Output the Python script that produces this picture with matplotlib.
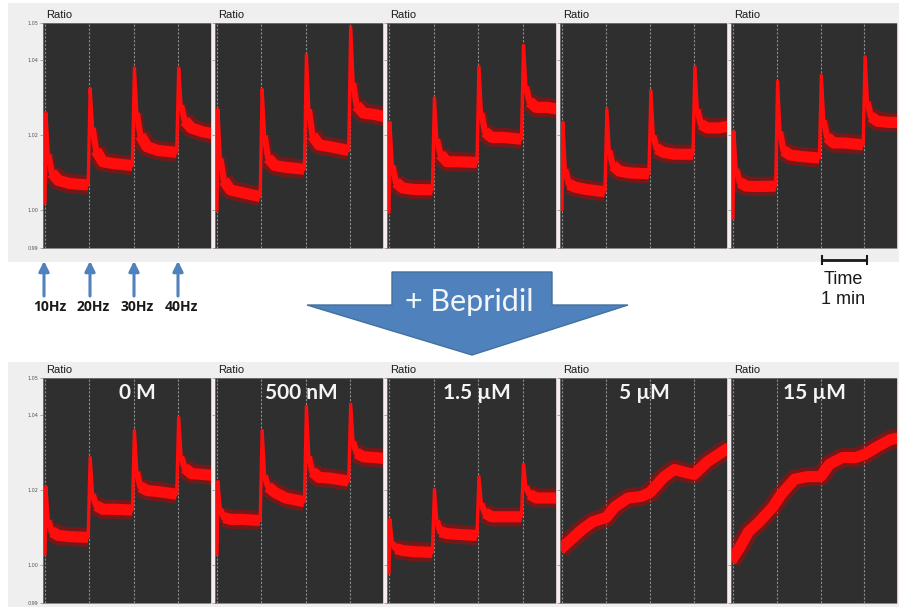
import matplotlib
matplotlib.use('Agg')
import matplotlib.pyplot as plt
from matplotlib.patches import Rectangle, Polygon

# ---------------- data ----------------
stim_times = [0, 1, 2, 3]
stim_labels = ['10Hz', '20Hz', '30Hz', '40Hz']
seg_offsets = [0.015, 0.07, 0.15, 0.3, 0.55, 0.97]
y_ticks = [0.99, 1.00, 1.02, 1.04, 1.05]
y_ticklabels = ['0.99', '1.00', '1.02', '1.04', '1.05']
conc_labels = ['0 M', '500 nM', '1.5 µM', '5 µM', '15 µM']

# top row (before drug): start level and per-stimulus [peak, ..., plateau end]
top_start = [1.002, 1.000, 0.9995, 1.0003, 0.998]
top1 = [[1.026, 1.015, 1.010, 1.008, 1.0072, 1.0068],
        [1.0325, 1.022, 1.016, 1.013, 1.0125, 1.012],
        [1.038, 1.026, 1.020, 1.017, 1.016, 1.0155],
        [1.038, 1.028, 1.024, 1.022, 1.021, 1.0205]]
top2 = [[1.027, 1.014, 1.008, 1.0055, 1.0048, 1.0037],
        [1.0323, 1.020, 1.014, 1.012, 1.0115, 1.011],
        [1.0416, 1.027, 1.020, 1.0175, 1.017, 1.016],
        [1.049, 1.034, 1.028, 1.026, 1.0256, 1.025]]
top3 = [[1.0235, 1.012, 1.0075, 1.006, 1.0056, 1.0055],
        [1.030, 1.019, 1.015, 1.013, 1.013, 1.0128],
        [1.0384, 1.026, 1.021, 1.0195, 1.0195, 1.019],
        [1.044, 1.033, 1.029, 1.0275, 1.0275, 1.027]]
top4 = [[1.0235, 1.011, 1.007, 1.0062, 1.0056, 1.005],
        [1.027, 1.016, 1.012, 1.0105, 1.010, 1.0098],
        [1.032, 1.020, 1.0165, 1.0155, 1.015, 1.015],
        [1.0384, 1.027, 1.023, 1.022, 1.022, 1.0225]]
top5 = [[1.021, 1.011, 1.0075, 1.0065, 1.0064, 1.0065],
        [1.0344, 1.021, 1.016, 1.0148, 1.0144, 1.014],
        [1.036, 1.024, 1.0195, 1.018, 1.018, 1.0175],
        [1.041, 1.029, 1.025, 1.0238, 1.0235, 1.0235]]

# bottom row (with Bepridil)
bot_start = [1.003, 1.003, 0.998]
bot1 = [[1.021, 1.012, 1.009, 1.008, 1.0077, 1.0075],
        [1.0288, 1.019, 1.016, 1.015, 1.015, 1.0148],
        [1.036, 1.025, 1.021, 1.020, 1.0197, 1.019],
        [1.0395, 1.029, 1.026, 1.0245, 1.0243, 1.024]]
bot2 = [[1.0224, 1.015, 1.0128, 1.0123, 1.0123, 1.012],
        [1.036, 1.024, 1.021, 1.0195, 1.018, 1.017],
        [1.0424, 1.029, 1.025, 1.0235, 1.0233, 1.0225],
        [1.043, 1.033, 1.030, 1.029, 1.0288, 1.0285]]
bot3 = [[1.0123, 1.006, 1.0045, 1.004, 1.0037, 1.0035],
        [1.0203, 1.012, 1.009, 1.0085, 1.0083, 1.008],
        [1.0237, 1.0165, 1.014, 1.013, 1.013, 1.013],
        [1.027, 1.021, 1.019, 1.018, 1.018, 1.018]]
bot4_t = [-0.05, 0.0, 0.2, 0.45, 0.7, 1.0, 1.2, 1.5, 1.8, 2.0, 2.3, 2.55, 2.8, 3.0, 3.3, 3.55, 3.79]
bot4_v = [1.004, 1.0048, 1.0069, 1.0096, 1.0117, 1.0128, 1.0157, 1.018, 1.0184, 1.0195,
          1.0235, 1.0256, 1.0248, 1.0243, 1.0277, 1.0296, 1.0315]
bot5_t = [-0.05, 0.0, 0.15, 0.35, 0.6, 0.9, 1.1, 1.4, 1.7, 2.0, 2.2, 2.5, 2.8, 3.0, 3.3, 3.6, 3.79]
bot5_v = [1.001, 1.0021, 1.0048, 1.009, 1.0117, 1.0155, 1.019, 1.023, 1.0237, 1.0237,
          1.027, 1.0288, 1.0288, 1.0296, 1.0317, 1.0336, 1.034]

# ---------------- layout ----------------
W, H = 899, 607
XMIN, XMAX = -0.05, 3.79
panel_lefts = [43, 215, 387, 560, 731]
panel_w = [170, 170, 171, 169, 168]
row_tops = [23, 378]
row_h = 225
TRACE = '#ff0d0d'

fig = plt.figure(figsize=(W / 100, H / 100), dpi=100)
bg = fig.add_axes([0, 0, 1, 1])
bg.set_xlim(0, W)
bg.set_ylim(H, 0)
bg.axis('off')
bg.add_patch(Rectangle((8, 3), W - 8, 259, color='#efefef', lw=0))
bg.add_patch(Rectangle((8, 362), W - 8, H - 362, color='#efefef', lw=0))


def pulse_trace(start, segs):
    """Full trace plus, per stimulus, the decay/plateau points."""
    t = [XMIN, -0.004]
    v = [start, start]
    mid, plat = [], []
    for k, seg in enumerate(segs):
        times = [min(stim_times[k] + o, XMAX) for o in seg_offsets]
        t.extend(times)
        v.extend(seg)
        mid.append((times[1:], seg[1:]))
        plat.append((times[2:], seg[2:]))
    return t, v, mid, plat


def line(ax, t, v, lw, color=TRACE, alpha=1.0, z=2.1):
    ax.plot(t, v, color=color, lw=lw, alpha=alpha, solid_joinstyle='round',
            solid_capstyle='butt', zorder=z)


def draw_band(ax, t, v):
    line(ax, t, v, 14, color='#c80000', alpha=0.45, z=2.0)
    line(ax, t, v, 8, z=2.1)


def pulse_panel(ax, start, segs):
    t, v, mid, plat = pulse_trace(start, segs)
    line(ax, t, v, 2.4, z=2.2)
    for pt, pv in mid:
        line(ax, pt, pv, 8, color='#c80000', alpha=0.35, z=2.0)
        line(ax, pt, pv, 4.5, z=2.1)
    for pt, pv in plat:
        draw_band(ax, pt, pv)


def make_panel(row, i):
    left, top = panel_lefts[i], row_tops[row]
    ax = fig.add_axes([left / W, 1 - (top + row_h) / H, panel_w[i] / W, row_h / H])
    ax.set_facecolor('#2f2f2f')
    ax.set_xlim(XMIN, XMAX)
    ax.set_ylim(0.99, 1.05)
    for s in stim_times:
        ax.axvline(s, color='#8c8c8c', lw=0.8, ls=(0, (2, 1.5)), zorder=1)
    ax.set_xticks([])
    ax.set_yticks(y_ticks)
    if i == 0:
        ax.set_yticklabels(y_ticklabels)
    else:
        ax.set_yticklabels([])
    ax.tick_params(axis='y', length=2.5, width=0.5, color='#888888',
                   labelsize=3.5, labelcolor='#555555', pad=1)
    for side in ['top', 'bottom', 'left']:
        ax.spines[side].set_color('#777777')
        ax.spines[side].set_linewidth(0.6)
    ax.spines['right'].set_color('#f7eded')
    ax.spines['right'].set_linewidth(2.6)
    ax.spines['right'].set_zorder(5)
    bg.text(left + 3, top - 8, 'Ratio', fontsize=8, family='Liberation Sans',
            color='#1a1a1a', ha='left', va='center')
    return ax


tops = [top1, top2, top3, top4, top5]
for i in range(5):
    ax = make_panel(0, i)
    pulse_panel(ax, top_start[i], tops[i])

bots = [bot1, bot2, bot3]
for i in range(3):
    ax = make_panel(1, i)
    pulse_panel(ax, bot_start[i], bots[i])
ax = make_panel(1, 3)
draw_band(ax, bot4_t, bot4_v)
ax = make_panel(1, 4)
draw_band(ax, bot5_t, bot5_v)

conc_x = [137, 301, 477, 644, 814]
for lab, cx in zip(conc_labels, conc_x):
    fig.text(cx / W, 1 - 393 / H, lab, fontsize=15, fontweight='bold', family='Lato',
             color='#f4f4f4', ha='center', va='center', zorder=10)

# stimulus arrows and labels
arrow_x = [44, 90, 134, 178]
label_x = [50, 93, 137, 181]
for ax_, lx, lab in zip(arrow_x, label_x, stim_labels):
    bg.annotate('', xy=(ax_, 261), xytext=(ax_, 296),
                arrowprops=dict(arrowstyle='-|>', color='#4f81bd', lw=2.2,
                                mutation_scale=15, shrinkA=0, shrinkB=0))
    bg.text(lx, 307, lab, fontsize=10, fontweight='bold', family='Open Sans',
            color='#1a1a1a', ha='center', va='center')

# big Bepridil arrow
poly = [(392, 272), (552, 272), (552, 305), (628, 305), (472, 355), (307, 305), (392, 305)]
bg.add_patch(Polygon(poly, closed=True, facecolor='#4f81bd', edgecolor='#41719c', lw=1))
bg.text(469, 302, '+ Bepridil', fontsize=22, family='Lato', color='#f2f5fa',
        ha='center', va='center')

# time scale bar
bg.plot([822, 867], [260, 260], color='#1a1a1a', lw=2, solid_capstyle='butt')
bg.plot([822, 822], [256, 264], color='#1a1a1a', lw=1.5)
bg.plot([867, 867], [256, 264], color='#1a1a1a', lw=1.5)
bg.text(843, 280, 'Time', fontsize=13, family='Liberation Sans', color='#1a1a1a',
        ha='center', va='center')
bg.text(843, 299, '1 min', fontsize=13, family='Liberation Sans', color='#1a1a1a',
        ha='center', va='center')

fig.savefig('out.png', dpi=100)
